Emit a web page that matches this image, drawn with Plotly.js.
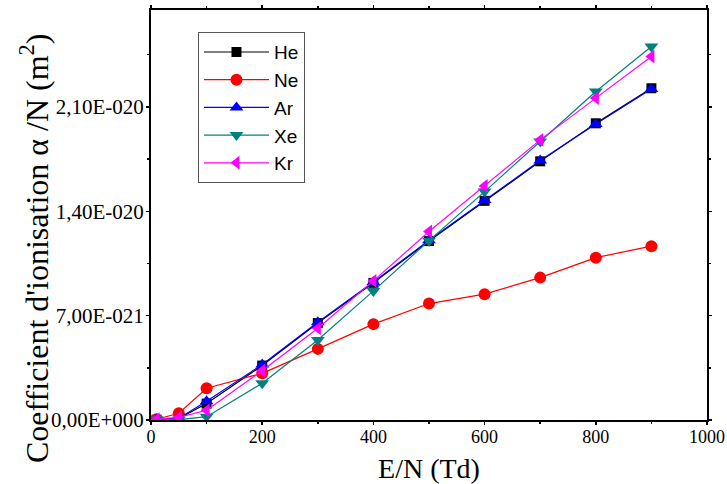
<!DOCTYPE html>
<html>
<head>
<meta charset="utf-8">
<script src="https://cdn.plot.ly/plotly-3.0.1.min.js"></script>
<style>
  html, body { margin: 0; padding: 0; background: #fff; }
  #chart { width: 727px; height: 484px; }
</style>
</head>
<body>
<div id="chart"></div>
<script>
// Reduced field E/N (Td)
const fieldTd = [10, 50, 100, 200, 300, 400, 500, 600, 700, 800, 900];

// Ionisation coefficient alpha/N, in units of 1e-21 m^2
const he = [0.02, 0.10, 1.10, 3.65, 6.50, 9.20, 12.00, 14.70, 17.35, 19.90, 22.25];
const ne = [0.05, 0.45, 2.13, 3.13, 4.77, 6.43, 7.81, 8.44, 9.55, 10.89, 11.66];
const ar = [0.03, 0.12, 1.25, 3.72, 6.55, 9.25, 12.05, 14.75, 17.40, 19.85, 22.20];
const xe = [0.05, 0.02, 0.22, 2.46, 5.37, 8.66, 12.03, 15.32, 18.68, 22.03, 25.05];
const kr = [0.05, 0.18, 0.65, 3.31, 6.15, 9.33, 12.64, 15.70, 18.79, 21.59, 24.38];

const UNIT = 1e-21;

// Axis ticks
const xTickVals = [0, 200, 400, 600, 800, 1000];
const yTickVals = [0, 7e-21, 1.4e-20, 2.1e-20];
const yTickText = ['0,00E+000', '7,00E-021', '1,40E-020', '2,10E-020'];

const series = [
  { name: 'He', y: he, color: '#000000', symbol: 'square', size: 10 },
  { name: 'Ne', y: ne, color: '#ff0000', symbol: 'circle', size: 12 },
  { name: 'Ar', y: ar, color: '#0000ff', symbol: 'triangle-up', size: 12 },
  { name: 'Xe', y: xe, color: '#008080', symbol: 'triangle-down', size: 12 },
  { name: 'Kr', y: kr, color: '#ff00ff', symbol: 'triangle-left', size: 12 }
];

const traces = series.map(s => ({
  type: 'scatter',
  mode: 'lines+markers',
  name: s.name,
  x: fieldTd,
  y: s.y.map(v => v * UNIT),
  line: { color: s.color, width: 1.2 },
  marker: { color: s.color, symbol: s.symbol, size: s.size, line: { width: 0 } }
}));

const serif = 'Liberation Serif, Times New Roman, serif';

const layout = {
  width: 727,
  height: 484,
  margin: { l: 151, r: 20, t: 10, b: 64 },
  paper_bgcolor: '#ffffff',
  plot_bgcolor: '#ffffff',
  showlegend: true,
  legend: {
    x: 0.0845, y: 0.946, xanchor: 'left', yanchor: 'top',
    bgcolor: '#ffffff', bordercolor: '#555555', borderwidth: 1,
    font: { family: 'Liberation Sans, Arial, sans-serif', size: 19, color: '#000' },
    itemwidth: 65,
    tracegroupgap: 0
  },
  xaxis: {
    range: [0, 1000],
    tickvals: xTickVals,
    ticks: 'outside', ticklen: 3, tickwidth: 1.5, tickcolor: '#000',
    ticklabelstandoff: -4,
    minor: { dtick: 100, ticks: 'outside', ticklen: 2, tickcolor: '#000' },
    showline: true, linecolor: '#000', linewidth: 2, mirror: 'ticks',
    showgrid: false, zeroline: false,
    tickfont: { family: serif, size: 18, color: '#000' },
    title: { text: 'E/N (Td)', font: { family: serif, size: 28, color: '#000' }, standoff: 14 },
    automargin: false
  },
  yaxis: {
    range: [0, 2.75e-20],
    tickvals: yTickVals,
    ticktext: yTickText,
    ticks: 'outside', ticklen: 3, tickwidth: 1.5, tickcolor: '#000',
    ticklabelstandoff: -2,
    minor: { tickvals: [3.5e-21, 1.05e-20, 1.75e-20, 2.45e-20], ticks: 'outside', ticklen: 2, tickcolor: '#000' },
    showline: true, linecolor: '#000', linewidth: 2, mirror: 'ticks',
    showgrid: false, zeroline: false,
    tickfont: { family: serif, size: 21, color: '#000' },
    automargin: false
  },
  annotations: [{
    text: 'Coefficient d\'ionisation α /N (m<sup>2</sup>)',
    xref: 'paper', yref: 'paper',
    x: -0.21, y: 0.42,
    xanchor: 'center', yanchor: 'middle',
    textangle: -90, showarrow: false,
    font: { family: serif, size: 32, color: '#000' }
  }]
};

Plotly.newPlot('chart', traces, layout, { displayModeBar: false, staticPlot: true });
</script>
</body>
</html>
